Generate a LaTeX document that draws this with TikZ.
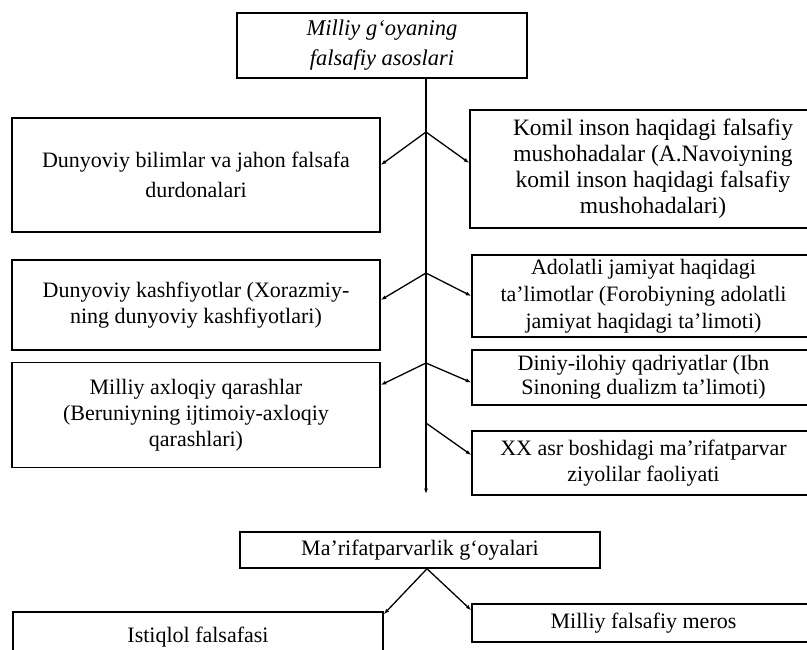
\documentclass[tikz,border=0pt]{standalone}
\usepackage{fontspec}
\setmainfont{Liberation Serif}
\usetikzlibrary{arrows.meta,calc,positioning}

\begin{document}
\begin{tikzpicture}[x=1pt,y=-1pt,>={Latex[length=5.5pt,width=4pt]},
  box/.style={draw,line width=1.5pt,align=center,inner sep=0pt,font=\fontsize{22}{25}\selectfont},
  lbox/.style={box,minimum width=368pt},
  rbox/.style={box,minimum width=343pt},
  link/.style={->,line width=1.3pt}]
  \useasboundingbox (0,0) rectangle (807,649);
  \clip (0,0) rectangle (807,649);

  % top of the scheme
  \node[box,minimum width=290pt,minimum height=65pt,font=\itshape\fontsize{22.5}{30}\selectfont] (goya) at (382,45.5) {Milliy g‘oyaning\\falsafiy asoslari};

  % left column
  \node[lbox,minimum height=114pt,font=\fontsize{22}{30}\selectfont] (bilim) at (196,175) {Dunyoviy bilimlar va jahon falsafa\\durdonalari};
  \node[lbox,minimum height=90pt,font=\fontsize{22}{26}\selectfont] (kashf) at (196,305) {Dunyoviy kashfiyotlar (Xorazmiy-\\ning dunyoviy kashfiyotlari)};
  \node[lbox,minimum height=105pt,font=\fontsize{22}{26}\selectfont] (axloq) at (196,415) {Milliy axloqiy qarashlar\\(Beruniyning ijtimoiy-axloqiy\\qarashlari)};

  % right column
  \node[box,minimum width=366pt,minimum height=118pt,font=\fontsize{23.5}{26}\selectfont] (komil) at (653,169) {Komil inson haqidagi falsafiy\\mushohadalar (A.Navoiyning\\komil inson haqidagi falsafiy\\mushohadalari)};
  \node[rbox,minimum height=82pt,font=\fontsize{22}{27}\selectfont] (adolat) at (643.5,296) {Adolatli jamiyat haqidagi\\ta’limotlar (Forobiyning adolatli\\jamiyat haqidagi ta’limoti)};
  \node[rbox,minimum height=55pt,font=\fontsize{22}{24}\selectfont] (diniy) at (643.5,377.5) {Diniy-ilohiy qadriyatlar (Ibn\\Sinoning dualizm ta’limoti)};
  \node[rbox,minimum height=64pt,font=\fontsize{22}{26}\selectfont] (ziyoli) at (643.5,463) {XX asr boshidagi ma’rifatparvar\\ziyolilar faoliyati};

  % main axis and its branches
  \coordinate (axisEnd) at (426,494);
  \coordinate (b1) at (426,132);
  \coordinate (b2) at (426,273);
  \coordinate (b3) at (426,363);
  \coordinate (b4) at (426,423);
  \draw[link] (goya.south -| axisEnd) -- (axisEnd);
  \draw[link] (b1) -- ([yshift=10pt]bilim.east);
  \draw[link] (b1) -- ([yshift=6pt]komil.west);
  \draw[link] (b2) -- ([yshift=5pt]kashf.east);
  \draw[link] (b2) -- (adolat.west);
  \draw[link] (b3) -- ([yshift=30pt]axloq.east);
  \draw[link] (b3) -- ([yshift=-5pt]diniy.west);
  \draw[link] (b4) -- ([yshift=8pt]ziyoli.west);

  % bottom part
  \node[box,minimum width=360pt,minimum height=36pt] (marifat) at (420,550) {Ma’rifatparvarlik g‘oyalari};
  \node[box,minimum width=370pt,minimum height=50pt] (istiqlol) at (198,637) {Istiqlol falsafasi};
  \node[rbox,minimum height=38pt] (meros) at (643.5,623) {Milliy falsafiy meros};
  \draw[link] ([xshift=7pt]marifat.south) -- ([yshift=-3pt]istiqlol.north east);
  \draw[link] ([xshift=7pt]marifat.south) -- ([yshift=-7pt]meros.north west);
\end{tikzpicture}
\end{document}
